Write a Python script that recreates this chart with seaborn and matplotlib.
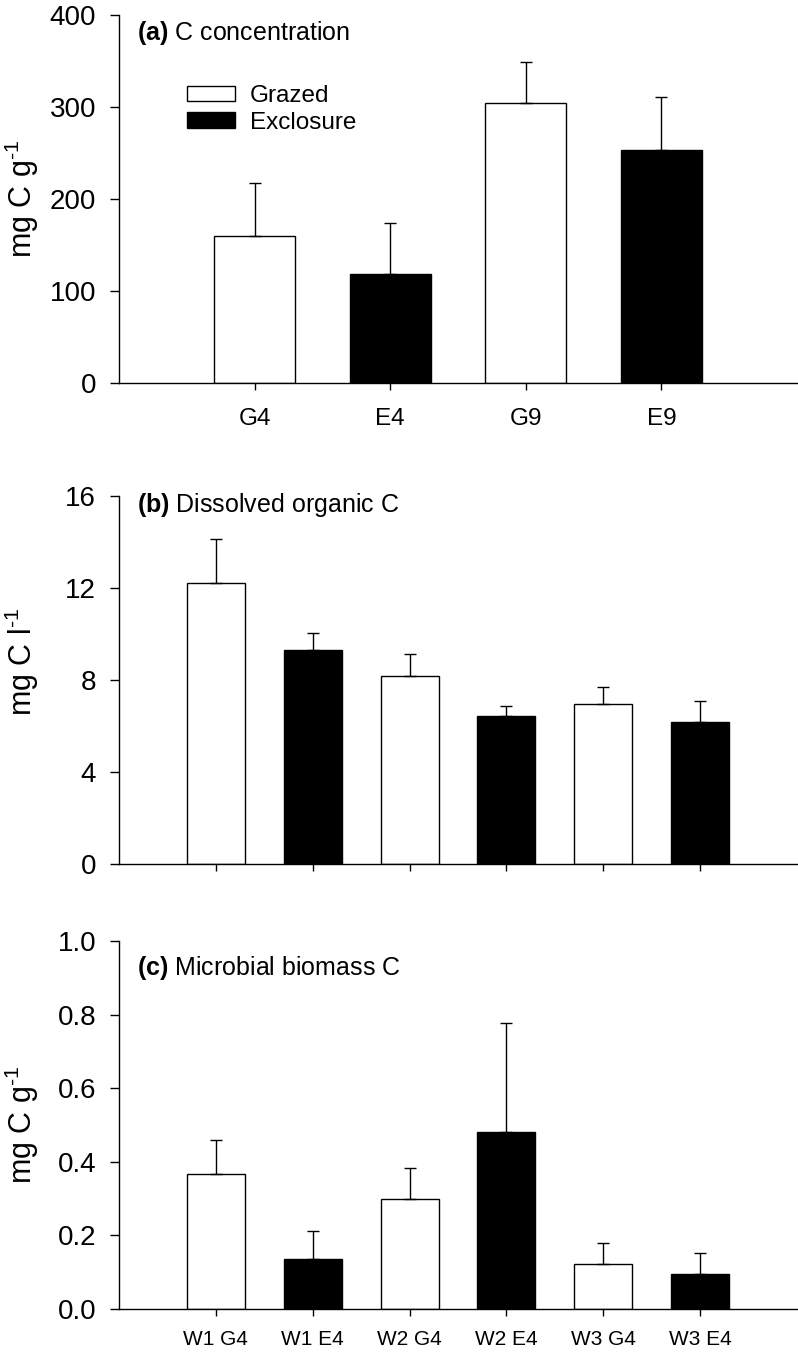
import matplotlib
matplotlib.use("Agg")
import matplotlib.pyplot as plt
import numpy as np
import pandas as pd
import seaborn as sns

sns.set_style("ticks")
plt.rcParams["font.family"] = ["Liberation Sans", "DejaVu Sans"]
plt.rcParams["mathtext.fontset"] = "custom"
plt.rcParams["mathtext.rm"] = "Liberation Sans"
plt.rcParams["mathtext.bf"] = "Liberation Sans:bold"
plt.rcParams["mathtext.it"] = "Liberation Sans:italic"
plt.rcParams["text.color"] = "black"
plt.rcParams["axes.labelcolor"] = "black"
plt.rcParams["xtick.color"] = "black"
plt.rcParams["ytick.color"] = "black"

# ------------------------------------------------------------------
# data
# ------------------------------------------------------------------
SITES_A = ["G4", "E4", "G9", "E9"]
TREAT_A = ["Grazed", "Exclosure", "Grazed", "Exclosure"]
C_CONC = [160, 119, 304, 253]
C_CONC_ERR = [57, 55, 45, 58]

SITES_BC = ["W1 G4", "W1 E4", "W2 G4", "W2 E4", "W3 G4", "W3 E4"]
TREAT_BC = ["Grazed", "Exclosure", "Grazed", "Exclosure", "Grazed", "Exclosure"]
DOC = [12.2, 9.3, 8.17, 6.42, 6.94, 6.19]
DOC_ERR = [1.95, 0.73, 0.95, 0.45, 0.77, 0.9]
MBC = [0.368, 0.137, 0.299, 0.480, 0.123, 0.096]
MBC_ERR = [0.092, 0.074, 0.084, 0.297, 0.056, 0.056]

PALETTE = {"Grazed": "white", "Exclosure": "black"}
HUE_ORDER = ["Grazed", "Exclosure"]


def bar_panel(ax, sites, treat, values, errors, show_legend=False):
    df = pd.DataFrame({"site": sites, "value": values, "treatment": treat})
    sns.barplot(
        data=df,
        x="site",
        y="value",
        hue="treatment",
        hue_order=HUE_ORDER,
        palette=PALETTE,
        dodge=False,
        width=0.6,
        edgecolor="black",
        linewidth=1.0,
        errorbar=None,
        legend=show_legend,
        ax=ax,
    )
    x = np.arange(len(values))
    ax.errorbar(
        x,
        values,
        yerr=[np.zeros(len(values)), errors],
        fmt="none",
        ecolor="black",
        elinewidth=1.0,
        capsize=4.3,
        capthick=1.0,
    )
    ax.set_xlim(-1, len(values))
    ax.set_xlabel("")
    sns.despine(ax=ax)
    ax.tick_params(axis="y", direction="out", length=6.5, width=1, pad=10,
                   labelsize=20, colors="black")
    ax.tick_params(axis="x", direction="out", length=5, width=1, colors="black")
    for spine in ax.spines.values():
        spine.set_linewidth(1.0)
        spine.set_color("black")


def panel_title(ax, letter, text, ybase):
    ax.text(0.027, ybase, r"$\mathbf{(" + letter + r")}$ " + text,
            transform=ax.transAxes, fontsize=18, va="baseline", ha="left",
            color="black")


fig = plt.figure(figsize=(7.98, 13.52), dpi=100)
left = 119 / 798
width = 678 / 798
height = 368 / 1352

ax_a = fig.add_axes([left, 1 - 383 / 1352, width, height])
ax_b = fig.add_axes([left, 1 - 864 / 1352, width, height])
ax_c = fig.add_axes([left, 1 - 1309 / 1352, width, height])

# (a) C concentration
bar_panel(ax_a, SITES_A, TREAT_A, C_CONC, C_CONC_ERR, show_legend=True)
ax_a.set_ylim(0, 400)
ax_a.set_yticks([0, 100, 200, 300, 400])
ax_a.tick_params(axis="x", labelsize=17.5, pad=13)
ax_a.set_ylabel(r"mg C g$^{\text{-}1}$", fontsize=22)
ax_a.yaxis.set_label_coords(-0.115, 0.5)
panel_title(ax_a, "a", "C concentration", 0.932)
handles, labels = ax_a.get_legend_handles_labels()
ax_a.legend(
    handles,
    labels,
    loc="upper left",
    bbox_to_anchor=(0.1, 0.81),
    frameon=False,
    fontsize=17.5,
    handlelength=2.0,
    handleheight=0.6,
    handletextpad=0.6,
    labelspacing=0.2,
    borderpad=0,
    borderaxespad=0,
)

# (b) dissolved organic C
bar_panel(ax_b, SITES_BC, TREAT_BC, DOC, DOC_ERR)
ax_b.set_ylim(0, 16)
ax_b.set_yticks([0, 4, 8, 12, 16])
ax_b.set_xticklabels([])
ax_b.set_ylabel(r"mg C l$^{\text{-}1}$", fontsize=22)
ax_b.yaxis.set_label_coords(-0.115, 0.55)
panel_title(ax_b, "b", "Dissolved organic C", 0.957)

# (c) microbial biomass C
bar_panel(ax_c, SITES_BC, TREAT_BC, MBC, MBC_ERR)
ax_c.set_ylim(0, 1.0)
ax_c.set_yticks([0, 0.2, 0.4, 0.6, 0.8, 1.0])
ax_c.set_yticklabels(["0.0", "0.2", "0.4", "0.6", "0.8", "1.0"])
ax_c.tick_params(axis="x", labelsize=15, pad=10)
ax_c.set_ylabel(r"mg C g$^{\text{-}1}$", fontsize=22)
ax_c.yaxis.set_label_coords(-0.115, 0.5)
panel_title(ax_c, "c", "Microbial biomass C", 0.907)

fig.savefig("out.png", dpi=100, facecolor="white")
